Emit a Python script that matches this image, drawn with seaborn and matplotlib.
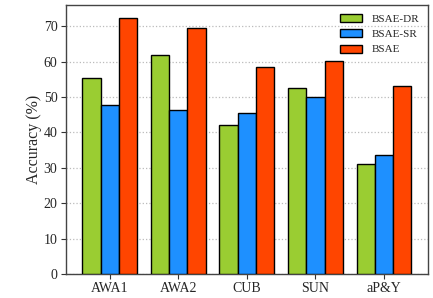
import seaborn as sns
import matplotlib.pyplot as plt
import pandas as pd

# values
datasets = ['AWA1', 'AWA2', 'CUB', 'SUN', 'aP&Y']
methods = ['BSAE-DR', 'BSAE-SR', 'BSAE']
bsae_dr = [55.5, 61.8, 42.2, 52.6, 31.0]
bsae_sr = [47.7, 46.3, 45.6, 50.0, 33.7]
bsae = [72.4, 69.4, 58.6, 60.2, 53.0]
colors = ['#9ACD32', '#1E90FF', '#FF4500']

df = pd.DataFrame({
    'dataset': datasets * 3,
    'method': [m for m in methods for _ in datasets],
    'acc': bsae_dr + bsae_sr + bsae,
})

sns.set_style('ticks')
plt.rcParams['font.family'] = ['Liberation Serif', 'DejaVu Serif']

fig = plt.figure(figsize=(4.33, 2.98), dpi=100)
ax = fig.add_axes([0.152, 0.0805, 0.836, 0.903])

sns.barplot(data=df, x='dataset', y='acc', hue='method', order=datasets,
            hue_order=methods, palette=colors, width=0.8,
            edgecolor='black', linewidth=1.0, saturation=1, ax=ax, zorder=3)

ax.set_ylim(0, 76)
ax.set_xlim(-0.64, 4.64)
ax.set_yticks(range(0, 71, 10))
ax.yaxis.grid(True, linestyle=':', color='#bbbbbb', linewidth=0.9, zorder=0)
ax.set_axisbelow(True)
ax.set_xlabel('')
ax.set_ylabel('Accuracy (%)', fontsize=11.5, labelpad=1.5)
ax.tick_params(labelsize=10, length=3.5, pad=2.5, color='#333333')
for s in ax.spines.values():
    s.set_color('#444444')
    s.set_linewidth(1.0)

ax.legend(loc='upper right', frameon=False, fontsize=8,
          handlelength=2.0, handleheight=0.72, handletextpad=0.8,
          labelspacing=0.5, borderaxespad=0.4)

fig.savefig('out.png', dpi=100)
